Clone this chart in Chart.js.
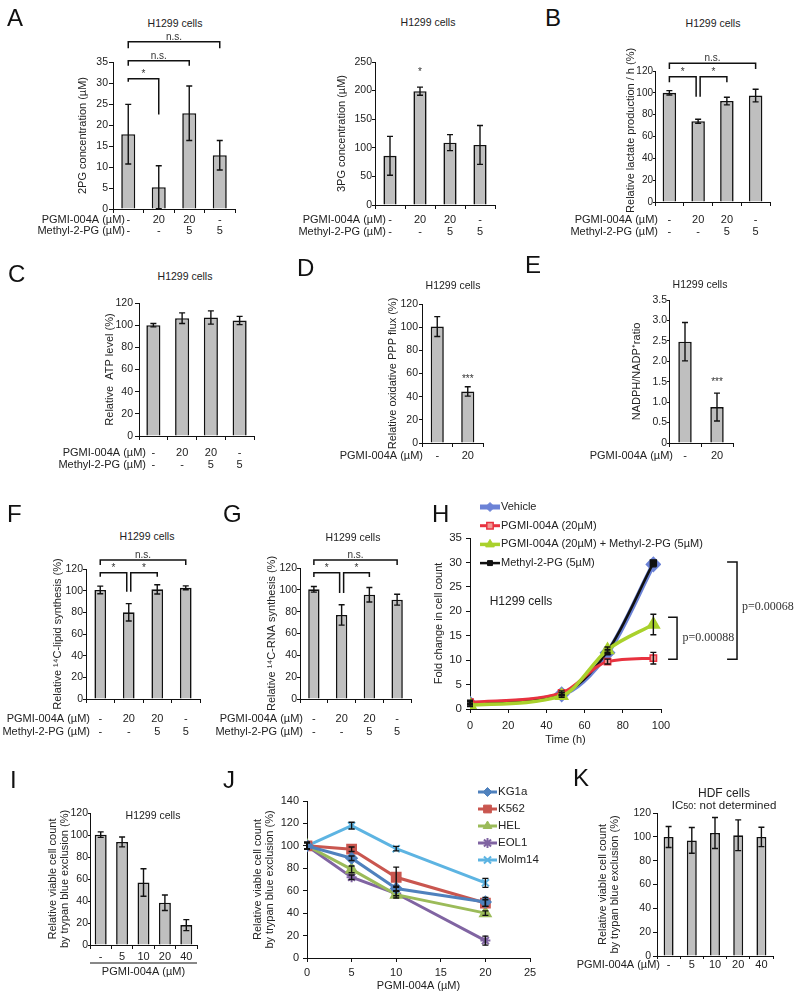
<!DOCTYPE html>
<html><head><meta charset="utf-8">
<script src="https://cdn.jsdelivr.net/npm/chart.js@4.4.1/dist/chart.umd.min.js"></script>
<style>
html,body{margin:0;padding:0;background:#fff;}
#fig{position:relative;width:800px;height:998px;overflow:hidden;background:#fff;font-family:"Liberation Sans",Arial,sans-serif;}
#fig canvas{position:absolute;}
.lbl{position:absolute;white-space:nowrap;color:#222;transform:translate(-50%,-50%);line-height:1;}
.let{position:absolute;font-size:24px;line-height:24px;color:#111;}
</style></head><body><div id="fig"></div>
<script>
// ---------------- DATA ----------------
const treatPGMI   = ['-', '20', '20', '-'];
const treatMethyl = ['-', '-', '5', '5'];
const pg2Mean  = [17.8, 5.2, 22.8, 12.8];
const pg2Err   = [7.1, 5.1, 6.5, 3.5];
const pg3Mean  = [86, 199, 109, 105];
const pg3Err   = [34, 7, 14, 34];
const lactMean = [100, 74, 92.5, 97.5];
const lactErr  = [2, 1.8, 3.5, 5.8];
const atpMean  = [100, 106.3, 106.9, 104.2];
const atpErr   = [1.5, 4.8, 6, 3.7];
const pppDose  = ['-', '20'];
const pppMean  = [100.5, 44.5];
const pppErr   = [8.6, 4];
const nadphMean = [2.48, 0.88];
const nadphErr  = [0.47, 0.34];
const lipidMean = [100.7, 80, 101.2, 102.6];
const lipidErr  = [3.5, 8, 4.3, 1.8];
const rnaMean   = [100.5, 77, 95.5, 91];
const rnaErr    = [2.6, 9.3, 6.7, 5];
// H growth curves
const hTime      = [0, 48, 72, 96];
const hVehicle   = [1.1, 3.0, 11.5, 29.6];
const hPGMI      = [1.4, 3.3, 9.7, 10.4];
const hCombo     = [0.8, 2.7, 12.1, 17.3];
const hMethyl    = [1.2, 3.1, 11.8, 29.9];
const hVehicleErr = [0.3, 0.3, 0.4, 0.5];
const hPGMIErr    = [0.4, 0.4, 0.5, 1.2];
const hComboErr   = [0.3, 0.3, 0.6, 2.1];
const hMethylErr  = [0.3, 0.3, 0.4, 0.5];
// I
const iDose = ['-', '5', '10', '20', '40'];
const iMean = [100.3, 93.7, 56.8, 38.4, 18.1];
const iErr  = [2.5, 4.5, 12.5, 7, 5];
// J
const jDose    = [0, 5, 10, 20];
const jKG1a    = [100, 89, 62, 50];
const jK562    = [100, 97, 72, 49];
const jHEL     = [100, 79, 56.5, 40];
const jEOL1    = [100, 72, 57.5, 15.5];
const jMolm14  = [100, 118, 97.5, 67];
const jKG1aErr   = [3, 2, 2, 4];
const jK562Err   = [3, 2, 9, 3];
const jHELErr    = [3, 3, 3, 2];
const jEOL1Err   = [3, 2, 2, 4];
const jMolm14Err = [3, 3, 2, 4];
// K
const kDose = ['-', '5', '10', '20', '40'];
const kMean = [99.9, 97, 103.2, 101.3, 99.9];
const kErr  = [8.8, 10.8, 13, 12.9, 8.1];

// ---------------- SETUP ----------------
const FONT = '"Liberation Sans", Arial, sans-serif';
Chart.defaults.font.family = FONT;
Chart.defaults.color = '#222';
Chart.defaults.animation = false;
const fig = document.getElementById('fig');
const TITLE_FONT = {size: 11, lineHeight: 1.1};
const XTITLE_FONT = {size: 11, lineHeight: 1.2};

function zipRows(...rows) { return rows[0].map((_, i) => rows.map(r => r[i])); }
function pts(xs, ys) { return xs.map((x, i) => ({x: x, y: ys[i]})); }

const extras = {
  id: 'extras',
  afterDatasetsDraw(chart, args, o) {
    const ctx = chart.ctx, ys = chart.scales.y;
    chart.data.datasets.forEach((ds, i) => {
      if (!ds.errors) return;
      const meta = chart.getDatasetMeta(i);
      const c = o.cap || 3;
      ctx.save();
      ctx.strokeStyle = '#111'; ctx.lineWidth = o.errWidth || 1.4;
      meta.data.forEach((el, j) => {
        const e = ds.errors[j]; if (e == null) return;
        const raw = ds.data[j];
        const v = (typeof raw === 'object') ? raw.y : raw;
        const yt = ys.getPixelForValue(v + e), yb = ys.getPixelForValue(Math.max(v - e, 0));
        const x = el.x;
        ctx.beginPath();
        ctx.moveTo(x, yt); ctx.lineTo(x, yb);
        ctx.moveTo(x - c, yt); ctx.lineTo(x + c, yt);
        ctx.moveTo(x - c, yb); ctx.lineTo(x + c, yb);
        ctx.stroke();
      });
      ctx.restore();
    });
  },
  afterDraw(chart, args, o) {
    const ctx = chart.ctx, xs = chart.scales.x, ys = chart.scales.y, ca = chart.chartArea;
    ctx.save();
    (o.brackets || []).forEach(b => {
      const xa = xs.getPixelForValue(b.a) + (b.dxa || 0), xb = xs.getPixelForValue(b.b) + (b.dxb || 0);
      const y = ys.getPixelForValue(b.y), ya = ys.getPixelForValue(b.ya), yb = ys.getPixelForValue(b.yb);
      ctx.strokeStyle = '#111'; ctx.lineWidth = 1.5;
      ctx.beginPath(); ctx.moveTo(xa, ya); ctx.lineTo(xa, y); ctx.lineTo(xb, y); ctx.lineTo(xb, yb); ctx.stroke();
      ctx.fillStyle = '#333'; ctx.font = '10px ' + FONT; ctx.textAlign = 'center'; ctx.textBaseline = 'alphabetic';
      ctx.fillText(b.text, (xa + xb) / 2 + (b.tdx || 0), y - 2);
    });
    (o.marks || []).forEach(m => {
      ctx.fillStyle = '#333'; ctx.font = '10px ' + FONT; ctx.textAlign = 'center'; ctx.textBaseline = 'middle';
      ctx.fillText(m.text, xs.getPixelForValue(m.i), ys.getPixelForValue(m.v));
    });
    if (o.rows) {
      const r = o.rows;
      const tl = xs.options.grid.drawTicks ? xs.options.grid.tickLength : 0;
      const lh = r.size * r.lh;
      ctx.fillStyle = '#222'; ctx.font = r.size + 'px ' + FONT; ctx.textAlign = 'right'; ctx.textBaseline = 'middle';
      r.text.forEach((t, k) => ctx.fillText(t, ca.left + r.dx, xs.top + tl + xs.options.ticks.padding + lh / 2 + k * lh));
    }
    if (o.underline) {
      const yy = xs.top + o.underline.dy;
      ctx.strokeStyle = '#111'; ctx.lineWidth = 1;
      ctx.beginPath(); ctx.moveTo(ca.left, yy); ctx.lineTo(ca.right, yy); ctx.stroke();
    }
    (o.pbrackets || []).forEach(b => {
      const xa = xs.getPixelForValue(b.xa), xb = xs.getPixelForValue(b.xb);
      const yt = ys.getPixelForValue(b.yt), yb = ys.getPixelForValue(b.yb);
      ctx.strokeStyle = '#111'; ctx.lineWidth = 1.5;
      ctx.beginPath(); ctx.moveTo(xa, yt); ctx.lineTo(xb, yt); ctx.lineTo(xb, yb); ctx.lineTo(xa, yb); ctx.stroke();
      ctx.fillStyle = '#333'; ctx.font = '12px "Liberation Serif", serif'; ctx.textAlign = 'left'; ctx.textBaseline = 'middle';
      ctx.fillText(b.text, xs.getPixelForValue(b.lx), ys.getPixelForValue(b.ly));
    });
    if (o.legend) {
      const lg = o.legend;
      chart.data.datasets.forEach((ds, k) => {
        const x = ca.left + lg.dx, y = ca.top + lg.dy + k * lg.step;
        ctx.strokeStyle = ds.borderColor; ctx.lineWidth = ds.borderWidth;
        ctx.beginPath(); ctx.moveTo(x, y); ctx.lineTo(x + lg.len, y); ctx.stroke();
        ctx.fillStyle = ds.pointBackgroundColor || ds.borderColor;
        ctx.strokeStyle = ds.pointBorderColor || ds.borderColor;
        ctx.lineWidth = ds.pointBorderWidth || 1;
        Chart.helpers.drawPoint(ctx, {pointStyle: ds.pointStyle, radius: ds.pointRadius, borderWidth: ds.pointBorderWidth || 1, rotation: 0}, x + lg.len / 2, y);
        ctx.fillStyle = '#222'; ctx.font = lg.size + 'px ' + FONT; ctx.textAlign = 'left'; ctx.textBaseline = 'middle';
        ctx.fillText(ds.label, x + lg.len + 1, y);
      });
    }
    ctx.restore();
  }
};

function makePanel(p) {
  const [L, T, R, B0] = p.box, [x0, y0, x1, y1] = p.area;
  const yLH = TITLE_FONT.size * TITLE_FONT.lineHeight;
  const B = p.xTitle ? Math.round(p.xTitle.y + XTITLE_FONT.size * XTITLE_FONT.lineHeight / 2) : B0;
  const W = R - L, H = B - T;
  const padLeft = p.yTitle.x - L - yLH / 2;
  const yW = x0 - L - padLeft;
  const xH = B - y1;
  const cv = document.createElement('canvas');
  cv.width = W; cv.height = H;
  cv.style.left = L + 'px'; cv.style.top = T + 'px'; cv.style.width = W + 'px'; cv.style.height = H + 'px';
  fig.appendChild(cv);
  const grid = {display: true, drawOnChartArea: false, drawTicks: true, tickLength: p.tl || 4, color: '#111', lineWidth: 1};
  let xScale;
  if (p.type === 'bar') {
    xScale = {type: 'category', offset: true, grid: Object.assign({offset: true}, grid),
      border: {display: true, color: '#111', width: 1},
      ticks: {font: {size: 11, lineHeight: p.tickLH || 1.1}, padding: p.tickPad, color: '#222', autoSkip: false, maxRotation: 0, minRotation: 0}};
  } else {
    xScale = {type: 'linear', min: p.x.min, max: p.x.max, grid: Object.assign({}, grid),
      border: {display: true, color: '#111', width: 1},
      ticks: {stepSize: p.x.step, font: {size: p.xFont || 11, lineHeight: 1.2}, padding: p.tickPad, color: '#222', maxRotation: 0}};
  }
  if (p.xTitle) xScale.title = {display: true, text: p.xTitle.text, font: XTITLE_FONT, padding: 0, color: '#222'};
  xScale.afterFit = s => { s.height = xH; };
  const yScale = {type: 'linear', min: 0, max: p.y.max,
    grid: Object.assign({}, grid, {tickLength: p.ytl || 4}),
    border: {display: true, color: '#111', width: 1},
    ticks: {stepSize: p.y.step, font: {size: p.yFont || 10.5}, padding: p.yPad == null ? 2 : p.yPad, color: '#222'},
    title: {display: true, text: p.yTitle.text, font: TITLE_FONT, padding: 0, color: '#222'},
    afterFit: s => { s.width = yW; }};
  let data;
  if (p.type === 'bar') {
    data = {labels: p.labels, datasets: [{data: p.values, errors: p.errors,
      backgroundColor: '#bfbfbf', borderColor: '#111', borderWidth: 1.6,
      barPercentage: p.barPct, categoryPercentage: 1}]};
  } else {
    data = {datasets: p.datasets};
  }
  new Chart(cv, {
    type: p.type, data: data,
    options: {
      responsive: false, devicePixelRatio: 1, animation: false,
      layout: {padding: {left: padLeft, top: y0 - T, right: R - x1, bottom: 0}},
      scales: {x: xScale, y: yScale},
      plugins: {legend: {display: false}, tooltip: {enabled: false}, title: {display: false}, extras: p.extras || {}}
    },
    plugins: [extras]
  });
}

const ROW2 = ['PGMI-004A (µM)', 'Methyl-2-PG (µM)'];

// A: 2PG
makePanel({type: 'bar', box: [20, 30, 245, 250], area: [113, 62, 235, 209],
  yTitle: {text: '2PG concentration (µM)', x: 83}, y: {max: 35, step: 5}, yFont: 10.5, yPad: 1,
  labels: zipRows(treatPGMI, treatMethyl), values: pg2Mean, errors: pg2Err, barPct: 0.46,
  tickPad: 1, tickLH: 1.05,
  extras: {rows: {text: ROW2, dx: 12, size: 11, lh: 1.05},
    brackets: [
      {a: 0, b: 3, y: 39.8, ya: 38.3, yb: 38.3, text: 'n.s.'},
      {a: 0, b: 2, y: 35.3, ya: 34.1, yb: 34.1, text: 'n.s.'},
      {a: 0, b: 1, y: 31, ya: 30.3, yb: 22.5, text: '*'}]}});
// A: 3PG
makePanel({type: 'bar', box: [280, 30, 505, 250], area: [375, 62, 495, 205],
  yTitle: {text: '3PG concentration (µM)', x: 342}, y: {max: 250, step: 50}, yFont: 10.5, ytl: 3, yPad: 0,
  labels: zipRows(treatPGMI, treatMethyl), values: pg3Mean, errors: pg3Err, barPct: 0.44,
  tickPad: 5, tickLH: 1.1,
  extras: {rows: {text: ROW2, dx: 11, size: 11, lh: 1.1}, marks: [{i: 1, v: 232, text: '*'}]}});
// B
makePanel({type: 'bar', box: [560, 40, 790, 250], area: [655, 71, 770, 202],
  yTitle: {text: '    Relative lactate production / h (%)', x: 631}, y: {max: 120, step: 20},
  yFont: 10, ytl: 2, yPad: 0,
  labels: zipRows(treatPGMI, treatMethyl), values: lactMean, errors: lactErr, barPct: 0.47,
  tickPad: 8, tickLH: 1.1,
  extras: {rows: {text: ROW2, dx: 3, size: 11, lh: 1.1},
    brackets: [
      {a: 0, b: 3, y: 127, ya: 121.8, yb: 121.8, text: 'n.s.'},
      {a: 0, b: 1, y: 114.8, ya: 109.6, yb: 96.4, dxb: -2, text: '*'},
      {a: 1, b: 2, y: 114.8, ya: 96.4, yb: 109.6, dxa: 2, text: '*'}]}});
// C
makePanel({type: 'bar', box: [40, 290, 264, 480], area: [139, 303, 254, 436],
  yTitle: {text: 'Relative  ATP level (%)', x: 110}, y: {max: 120, step: 20}, yFont: 10.5,
  labels: zipRows(treatPGMI, treatMethyl), values: atpMean, errors: atpErr, barPct: 0.49,
  tickPad: 7, tickLH: 1.1,
  extras: {rows: {text: ROW2, dx: 7, size: 11, lh: 1.1}}});
// D
makePanel({type: 'bar', box: [330, 290, 493, 480], area: [422, 304, 483, 443],
  yTitle: {text: 'Relative oxidative PPP flux (%)', x: 393}, y: {max: 120, step: 20}, yFont: 10.5, ytl: 3, yPad: 1,
  labels: pppDose, values: pppMean, errors: pppErr, barPct: 0.43,
  tickPad: 3, tickLH: 1.1,
  extras: {rows: {text: ['PGMI-004A (µM)'], dx: 1, size: 11, lh: 1.1}, marks: [{i: 1, v: 55, text: '***'}]}});
// E
makePanel({type: 'bar', box: [580, 290, 745, 480], area: [669, 300, 733, 443],
  yTitle: {text: 'NADPH/NADP⁺ratio', x: 637}, y: {max: 3.5, step: 0.5}, yFont: 10.5, ytl: 2, yPad: 0,
  labels: pppDose, values: nadphMean, errors: nadphErr, barPct: 0.42,
  tickPad: 3, tickLH: 1.1,
  extras: {rows: {text: ['PGMI-004A (µM)'], dx: 4, size: 11, lh: 1.1}, marks: [{i: 1, v: 1.49, text: '***'}]}});
// F
makePanel({type: 'bar', box: [0, 545, 210, 745], area: [86, 569, 200, 699],
  yTitle: {text: 'Relative ¹⁴C-lipid synthesis (%)', x: 58}, y: {max: 120, step: 20}, yFont: 10.5, ytl: 3, yPad: 0,
  labels: zipRows(treatPGMI, treatMethyl), values: lipidMean, errors: lipidErr, barPct: 0.41,
  tickPad: 9, tickLH: 1.18,
  extras: {rows: {text: ROW2, dx: 4, size: 11, lh: 1.18},
    brackets: [
      {a: 0, b: 3, y: 128.3, ya: 123.7, yb: 123.7, text: 'n.s.'},
      {a: 0, b: 1, y: 116.6, ya: 112.9, yb: 99, dxb: -2, text: '*'},
      {a: 1, b: 2, y: 116.6, ya: 99, yb: 112.9, dxa: 2, text: '*'}]}});
// G
makePanel({type: 'bar', box: [205, 545, 421, 745], area: [300, 568, 411, 699],
  yTitle: {text: 'Relative ¹⁴C-RNA synthesis (%)', x: 272}, y: {max: 120, step: 20}, yFont: 10.5, ytl: 3, yPad: 0,
  labels: zipRows(treatPGMI, treatMethyl), values: rnaMean, errors: rnaErr, barPct: 0.41,
  tickPad: 9, tickLH: 1.18,
  extras: {rows: {text: ROW2, dx: 3, size: 11, lh: 1.18},
    brackets: [
      {a: 0, b: 3, y: 127.3, ya: 122.7, yb: 122.7, text: 'n.s.'},
      {a: 0, b: 1, y: 115.7, ya: 111.7, yb: 97.1, dxb: -2, text: '*'},
      {a: 1, b: 2, y: 115.7, ya: 97.1, yb: 111.7, dxa: 2, text: '*'}]}});
// H
makePanel({type: 'line', box: [400, 495, 800, 0], area: [470, 538, 661, 709],
  yTitle: {text: 'Fold change in cell count', x: 439}, y: {max: 35, step: 5}, yFont: 11.5, yPad: 4,
  x: {min: 0, max: 100, step: 20}, xFont: 11, xTitle: {text: 'Time (h)', y: 740}, tickPad: 6,
  datasets: [
    {label: 'Vehicle', data: pts(hTime, hVehicle), errors: hVehicleErr, borderColor: '#6b82d6', borderWidth: 5,
      pointStyle: 'rectRot', pointRadius: 4.5, pointBackgroundColor: '#6b82d6', pointBorderColor: '#6b82d6', cubicInterpolationMode: 'monotone', order: 4},
    {label: 'PGMI-004A (20µM)', data: pts(hTime, hPGMI), errors: hPGMIErr, borderColor: '#e8323f', borderWidth: 3,
      pointStyle: 'rect', pointRadius: 4.5, pointBackgroundColor: '#f29a96', pointBorderColor: '#e8323f', pointBorderWidth: 1.5, cubicInterpolationMode: 'monotone', order: 2},
    {label: 'PGMI-004A (20µM) + Methyl-2-PG (5µM)', data: pts(hTime, hCombo), errors: hComboErr, borderColor: '#a9d12c', borderWidth: 3.5,
      pointStyle: 'triangle', pointRadius: 5, pointBackgroundColor: '#a9d12c', pointBorderColor: '#a9d12c', cubicInterpolationMode: 'monotone', order: 1},
    {label: 'Methyl-2-PG (5µM)', data: pts(hTime, hMethyl), errors: hMethylErr, borderColor: '#111', borderWidth: 2.5,
      pointStyle: 'rect', pointRadius: 3.5, pointBackgroundColor: '#111', pointBorderColor: '#111', cubicInterpolationMode: 'monotone', order: 3}],
  extras: {legend: {dx: 10, dy: -31, step: 18.7, len: 20, size: 11},
    pbrackets: [
      {xa: 103.7, xb: 108.4, yt: 18.8, yb: 10.2, lx: 111.3, ly: 14.5, text: 'p=0.00088'},
      {xa: 134.6, xb: 139.8, yt: 30.1, yb: 10.2, lx: 142.4, ly: 20.9, text: 'p=0.00068'}]}});
// I
makePanel({type: 'bar', box: [15, 800, 207, 0], area: [90, 813, 197, 945],
  yTitle: {text: ['Relative viable cell count', 'by trypan blue exclusion (%)'], x: 53}, y: {max: 120, step: 20},
  yFont: 10.5, ytl: 2, yPad: 0,
  xTitle: {text: 'PGMI-004A (µM)', y: 972},
  labels: iDose, values: iMean, errors: iErr, barPct: 0.56, tickPad: 2, tickLH: 1.1,
  extras: {underline: {dy: 18}}});
// J
makePanel({type: 'line', box: [225, 780, 575, 0], area: [307, 801, 530, 958],
  yTitle: {text: ['Relative viable cell count', 'by trypan blue exclusion (%)'], x: 258}, y: {max: 140, step: 20},
  yFont: 11, yPad: 4, xFont: 11,
  x: {min: 0, max: 25, step: 5}, xTitle: {text: 'PGMI-004A (µM)', y: 986}, tickPad: 4,
  datasets: [
    {label: 'KG1a', data: pts(jDose, jKG1a), errors: jKG1aErr, borderColor: '#4f81bd', borderWidth: 3,
      pointStyle: 'rectRot', pointRadius: 4.5, pointBackgroundColor: '#4f81bd', pointBorderColor: '#4f81bd', tension: 0},
    {label: 'K562', data: pts(jDose, jK562), errors: jK562Err, borderColor: '#c9564f', borderWidth: 3,
      pointStyle: 'rect', pointRadius: 5.5, pointBackgroundColor: '#c9564f', pointBorderColor: '#c9564f', tension: 0},
    {label: 'HEL', data: pts(jDose, jHEL), errors: jHELErr, borderColor: '#9bbb59', borderWidth: 3,
      pointStyle: 'triangle', pointRadius: 5, pointBackgroundColor: '#9bbb59', pointBorderColor: '#9bbb59', tension: 0},
    {label: 'EOL1', data: pts(jDose, jEOL1), errors: jEOL1Err, borderColor: '#8064a2', borderWidth: 3,
      pointStyle: 'star', pointRadius: 5, pointBackgroundColor: '#8064a2', pointBorderColor: '#8064a2', pointBorderWidth: 2, tension: 0},
    {label: 'Molm14', data: pts(jDose, jMolm14), errors: jMolm14Err, borderColor: '#5db4e2', borderWidth: 3,
      pointStyle: 'crossRot', pointRadius: 5, pointBackgroundColor: '#5db4e2', pointBorderColor: '#5db4e2', pointBorderWidth: 2, tension: 0}],
  extras: {legend: {dx: 171, dy: -9, step: 17, len: 19, size: 11.5}}});
// K
makePanel({type: 'bar', box: [565, 800, 790, 990], area: [657, 813, 773, 956],
  yTitle: {text: ['Relative viable cell count', 'by trypan blue exclusion (%)'], x: 603}, y: {max: 120, step: 20},
  yFont: 10.5,
  labels: kDose, values: kMean, errors: kErr, barPct: 0.43, tl: 3, tickPad: 0, tickLH: 1.1,
  extras: {rows: {text: ['PGMI-004A (µM)'], dx: 3, size: 11, lh: 1.1}}});

// ---------------- TEXT LABELS ----------------
const titles = [
  ['H1299 cells', 175, 23, 10.5], ['H1299 cells', 428, 22, 10.5], ['H1299 cells', 713, 23, 10.5],
  ['H1299 cells', 185, 276, 10.5], ['H1299 cells', 453, 285, 10.5], ['H1299 cells', 700, 284, 10.5],
  ['H1299 cells', 147, 536, 10.5], ['H1299 cells', 353, 537, 10.5], ['H1299 cells', 521, 601, 12],
  ['H1299 cells', 153, 815, 10.5], ['HDF cells', 724, 793, 12]
];
titles.forEach(t => {
  const d = document.createElement('div'); d.className = 'lbl';
  d.textContent = t[0]; d.style.left = t[1] + 'px'; d.style.top = t[2] + 'px'; d.style.fontSize = t[3] + 'px';
  fig.appendChild(d);
});
const ic = document.createElement('div'); ic.className = 'lbl';
ic.innerHTML = 'IC<span style="font-size:9px">50</span>: not determined';
ic.style.left = '724px'; ic.style.top = '806px'; ic.style.fontSize = '11.5px';
fig.appendChild(ic);
const letters = [['A', 7, 9], ['B', 545, 9], ['C', 8, 265], ['D', 297, 259], ['E', 525, 256],
  ['F', 7, 505], ['G', 223, 505], ['H', 432, 505], ['I', 10, 771], ['J', 223, 771], ['K', 573, 769]];
letters.forEach(l => {
  const d = document.createElement('div'); d.className = 'let';
  d.textContent = l[0]; d.style.left = l[1] + 'px'; d.style.top = (l[2] - 3) + 'px';
  fig.appendChild(d);
});
</script></body></html>
